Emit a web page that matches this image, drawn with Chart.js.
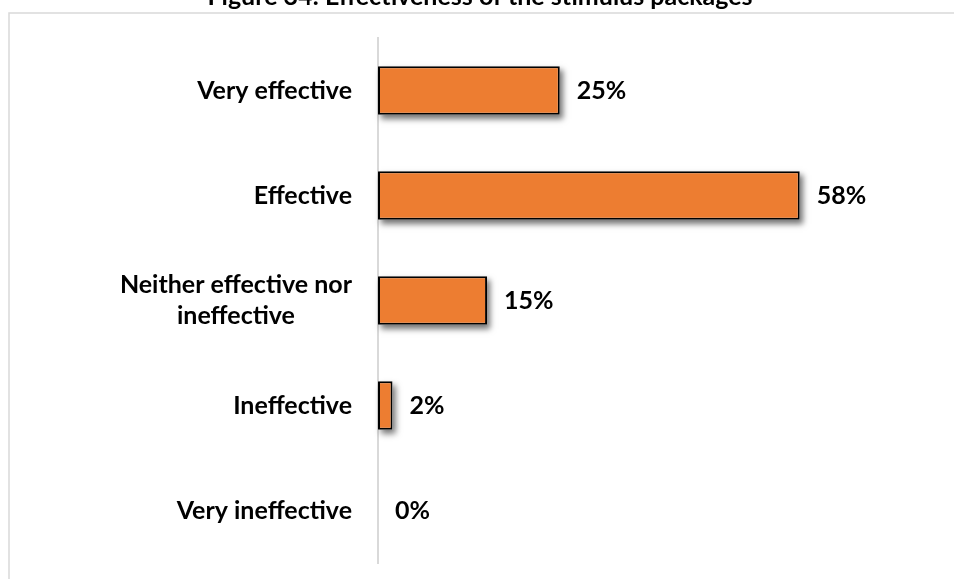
<!DOCTYPE html>
<html>
<head>
<meta charset="utf-8">
<script src="https://cdn.jsdelivr.net/npm/chart.js@4.4.1/dist/chart.umd.min.js"></script>
<style>
  html, body { margin: 0; padding: 0; background: #ffffff; }
  #wrap { width: 954px; height: 579px; position: relative; }
</style>
</head>
<body>
<div id="wrap"><canvas id="c" width="954" height="579"></canvas></div>
<script>
// Survey responses: perceived effectiveness of the stimulus packages (% of respondents)
const titleText = 'Figure 34: Effectiveness of the stimulus packages';
const categories = [
  ['Very effective'],
  ['Effective'],
  ['Neither effective nor', 'ineffective'],
  ['Ineffective'],
  ['Very ineffective']
];
const shares = [25, 58, 15, 2, 0];
const xMax = 70;

const FONT_FAMILY = 'Lato, "Open Sans", sans-serif';
const LABEL_FONT = 'bold 25px ' + FONT_FAMILY;
const BAR_COLOR = '#ED7D31';
const FRAME_COLOR = '#d9d9d9';

// White page, light frame and the partially visible caption
const framePlugin = {
  id: 'frame',
  beforeDraw(chart) {
    const ctx = chart.ctx;
    ctx.save();
    ctx.fillStyle = '#ffffff';
    ctx.fillRect(0, 0, chart.width, chart.height);
    ctx.strokeStyle = FRAME_COLOR;
    ctx.lineWidth = 1.5;
    ctx.beginPath();
    ctx.moveTo(9, chart.height);
    ctx.lineTo(9, 13);
    ctx.lineTo(chart.width, 13);
    ctx.stroke();
    ctx.fillStyle = '#000000';
    ctx.font = 'bold 25px ' + FONT_FAMILY;
    ctx.textAlign = 'center';
    ctx.textBaseline = 'alphabetic';
    ctx.fillText(titleText, 480, 5);
    ctx.restore();
  }
};

// Soft drop shadow behind each bar (painted first, then covered by the bar itself)
const shadowPlugin = {
  id: 'barShadow',
  beforeDatasetDraw(chart) {
    const ctx = chart.ctx;
    const meta = chart.getDatasetMeta(0);
    ctx.save();
    ctx.shadowColor = 'rgba(0,0,0,0.55)';
    ctx.shadowOffsetX = 3;
    ctx.shadowOffsetY = 4;
    ctx.shadowBlur = 6;
    ctx.fillStyle = '#ffffff';
    meta.data.forEach((bar) => {
      const p = bar.getProps(['x', 'y', 'base', 'height'], true);
      const w = p.x - p.base;
      if (w <= 0.5) return;
      ctx.fillRect(p.base, p.y - p.height / 2, w, p.height);
    });
    ctx.restore();
  }
};

// Category names (right-aligned block, lines centred on each other) and value labels
const labelPlugin = {
  id: 'labels',
  afterDatasetsDraw(chart) {
    const ctx = chart.ctx;
    const yScale = chart.scales.y;
    const meta = chart.getDatasetMeta(0);
    ctx.save();
    ctx.fillStyle = '#000000';
    ctx.font = LABEL_FONT;
    ctx.textBaseline = 'middle';
    const rightEdge = yScale.left - 26;
    const lineH = 31;
    categories.forEach((lines, i) => {
      const yc = yScale.getPixelForTick(i);
      const widths = lines.map(l => ctx.measureText(l).width);
      const blockW = Math.max(...widths);
      const cx = rightEdge - blockW / 2;
      ctx.textAlign = 'center';
      lines.forEach((l, k) => {
        const y = yc + (k - (lines.length - 1) / 2) * lineH;
        ctx.fillText(l, cx, y);
      });
    });
    ctx.textAlign = 'left';
    meta.data.forEach((bar, i) => {
      ctx.fillText(shares[i] + '%', bar.x + 17, bar.y);
    });
    ctx.restore();
  }
};

new Chart(document.getElementById('c'), {
  type: 'bar',
  data: {
    labels: categories,
    datasets: [{
      data: shares,
      backgroundColor: BAR_COLOR,
      borderColor: '#000000',
      borderWidth: 2,
      borderSkipped: false,
      barPercentage: 0.46,
      categoryPercentage: 1.0
    }]
  },
  options: {
    indexAxis: 'y',
    responsive: false,
    animation: false,
    layout: { padding: { left: 378, right: 67, top: 38, bottom: 16 } },
    plugins: {
      legend: { display: false },
      tooltip: { enabled: false },
      title: { display: false }
    },
    scales: {
      x: { display: false, min: 0, max: xMax },
      y: {
        display: true,
        grid: { display: false, drawTicks: false },
        ticks: { display: false },
        border: { display: true, color: FRAME_COLOR, width: 2 }
      }
    }
  },
  plugins: [framePlugin, shadowPlugin, labelPlugin]
});
</script>
</body>
</html>
